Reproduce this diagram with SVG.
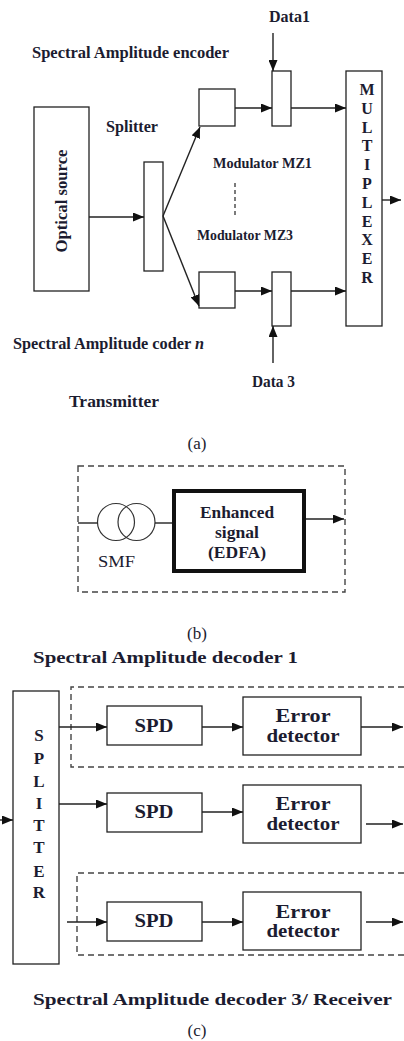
<svg xmlns="http://www.w3.org/2000/svg" width="404" height="1041" viewBox="0 0 404 1041">
<style>
  .bx{fill:#fff;stroke:#222;stroke-width:1.3}
  .ln{fill:none;stroke:#222;stroke-width:1.4}
  .ar{fill:none;stroke:#222;stroke-width:1.4;marker-end:url(#ah)}
  .ds{fill:none;stroke:#444;stroke-width:1.4;stroke-dasharray:6 4}
  .t{font-family:"Liberation Serif","Times New Roman",serif;font-weight:bold;fill:#1c1c30}
  .r{font-family:"Liberation Serif","Times New Roman",serif;fill:#1c1c30}
  .c{text-anchor:middle}
</style>
<defs>
  <marker id="ah" markerUnits="userSpaceOnUse" markerWidth="11" markerHeight="9" refX="11" refY="4.5" orient="auto">
    <path d="M0,0 L11,4.5 L0,9 z" fill="#111"/>
  </marker>
</defs>
<rect width="404" height="1041" fill="#fff"/>

<!-- (a) Transmitter -->
<g id="labels-a">
  <text class="t" x="269" y="22" font-size="16" textLength="41" lengthAdjust="spacingAndGlyphs">Data1</text>
  <text class="t" x="32" y="58" font-size="16" textLength="197" lengthAdjust="spacingAndGlyphs">Spectral Amplitude encoder</text>
  <text class="t" x="106" y="132" font-size="16" textLength="52" lengthAdjust="spacingAndGlyphs">Splitter</text>
  <text class="t" x="213" y="168" font-size="14" textLength="99" lengthAdjust="spacingAndGlyphs">Modulator MZ1</text>
  <text class="t" x="197" y="240" font-size="14" textLength="96" lengthAdjust="spacingAndGlyphs">Modulator MZ3</text>
  <text class="t" x="13" y="349" font-size="16" textLength="191" lengthAdjust="spacingAndGlyphs">Spectral Amplitude coder <tspan font-style="italic">n</tspan></text>
  <text class="t" x="252" y="387" font-size="16" textLength="43" lengthAdjust="spacingAndGlyphs">Data 3</text>
  <text class="t" x="69" y="407" font-size="16" textLength="90" lengthAdjust="spacingAndGlyphs">Transmitter</text>
  <text class="r c" x="197" y="449" font-size="17">(a)</text>
</g>
<g id="optical-source">
  <rect class="bx" x="34" y="107" width="55" height="184"/>
  <text class="t c" transform="translate(67,201) rotate(-90)" font-size="16" textLength="103" lengthAdjust="spacingAndGlyphs">Optical source</text>
</g>
<g id="splitter-a">
  <rect class="bx" x="144" y="162" width="19" height="109"/>
</g>
<g id="encoder-1">
  <rect class="bx" x="199" y="89" width="36" height="37"/>
</g>
<g id="encoder-n">
  <rect class="bx" x="199" y="272" width="36" height="36"/>
</g>
<g id="modulator-1">
  <rect class="bx" x="272" y="71" width="19" height="55"/>
</g>
<g id="modulator-3">
  <rect class="bx" x="272" y="272" width="19" height="54"/>
</g>
<g id="multiplexer">
  <rect class="bx" x="346" y="71" width="36" height="255"/>
  <g class="t c" font-size="16">
    <text x="367" y="95">M</text>
    <text x="367" y="114">U</text>
    <text x="367" y="133">L</text>
    <text x="367" y="151">T</text>
    <text x="367" y="170">I</text>
    <text x="367" y="189">P</text>
    <text x="367" y="208">L</text>
    <text x="367" y="227">E</text>
    <text x="367" y="245">X</text>
    <text x="367" y="264">E</text>
    <text x="367" y="283">R</text>
  </g>
</g>

<!-- (b) -->
<g id="link-b">
  <rect class="ds" x="78" y="466" width="267" height="126"/>
  <circle cx="116" cy="522" r="18.5" fill="none" stroke="#333" stroke-width="1.2"/>
  <circle cx="136.5" cy="522" r="18.5" fill="none" stroke="#333" stroke-width="1.2"/>
  <text class="r" x="98" y="567" font-size="16" textLength="37" lengthAdjust="spacingAndGlyphs">SMF</text>
  <text class="r c" x="197" y="639" font-size="17">(b)</text>
</g>
<g id="edfa">
  <rect x="174" y="491" width="130" height="80" fill="#fff" stroke="#111" stroke-width="4"/>
  <text class="t c" x="237" y="518" font-size="17" textLength="74" lengthAdjust="spacingAndGlyphs">Enhanced</text>
  <text class="t c" x="237" y="538" font-size="17" textLength="44" lengthAdjust="spacingAndGlyphs">signal</text>
  <text class="t c" x="237" y="558" font-size="17" textLength="58" lengthAdjust="spacingAndGlyphs">(EDFA)</text>
</g>

<!-- (c) Receiver -->
<g id="labels-c">
  <text class="t" x="33" y="663" font-size="16" textLength="265" lengthAdjust="spacingAndGlyphs">Spectral Amplitude decoder 1</text>
  <text class="t" x="33" y="1005" font-size="16" textLength="359" lengthAdjust="spacingAndGlyphs">Spectral Amplitude decoder 3/ Receiver</text>
  <text class="r c" x="197" y="1036" font-size="17">(c)</text>
</g>
<g id="decoder-groups">
  <path class="ds" d="M404,687 H71 V767 H404"/>
  <path class="ds" d="M404,873 H77 V955 H404"/>
</g>
<g id="splitter-c">
  <rect class="bx" x="13" y="691" width="46" height="273"/>
  <g class="t c" font-size="17">
    <text x="39" y="741">S</text>
    <text x="39" y="764">P</text>
    <text x="39" y="787">L</text>
    <text x="39" y="809">I</text>
    <text x="39" y="831">T</text>
    <text x="39" y="853">T</text>
    <text x="39" y="877">E</text>
    <text x="39" y="898">R</text>
  </g>
</g>
<g id="spd-1"><rect class="bx" x="107" y="706" width="95" height="39"/><text class="t c" x="154" y="732" font-size="18" textLength="39" lengthAdjust="spacingAndGlyphs">SPD</text></g>
<g id="spd-2"><rect class="bx" x="107" y="793" width="95" height="39"/><text class="t c" x="154" y="818" font-size="18" textLength="39" lengthAdjust="spacingAndGlyphs">SPD</text></g>
<g id="spd-3"><rect class="bx" x="107" y="902" width="95" height="39"/><text class="t c" x="154" y="927" font-size="18" textLength="39" lengthAdjust="spacingAndGlyphs">SPD</text></g>
<g id="ed-1"><rect class="bx" x="243" y="697" width="118" height="58"/><text class="t c" x="303" y="722" font-size="18" textLength="55" lengthAdjust="spacingAndGlyphs">Error</text><text class="t c" x="303" y="742" font-size="18" textLength="73" lengthAdjust="spacingAndGlyphs">detector</text></g>
<g id="ed-2"><rect class="bx" x="243" y="785" width="118" height="58"/><text class="t c" x="303" y="810" font-size="18" textLength="55" lengthAdjust="spacingAndGlyphs">Error</text><text class="t c" x="303" y="830" font-size="18" textLength="73" lengthAdjust="spacingAndGlyphs">detector</text></g>
<g id="ed-3"><rect class="bx" x="243" y="892" width="118" height="58"/><text class="t c" x="303" y="918" font-size="18" textLength="55" lengthAdjust="spacingAndGlyphs">Error</text><text class="t c" x="303" y="937" font-size="18" textLength="73" lengthAdjust="spacingAndGlyphs">detector</text></g>

<g id="connectors">
  <!-- (a) -->
  <line class="ar" x1="273" y1="33" x2="273" y2="71"/>
  <line class="ar" x1="235" y1="108" x2="272" y2="108"/>
  <line class="ar" x1="291" y1="108" x2="346" y2="108"/>
  <line class="ar" x1="89" y1="217" x2="144" y2="217"/>
  <line class="ar" x1="163" y1="216" x2="200" y2="127"/>
  <line class="ar" x1="163" y1="216" x2="199" y2="306"/>
  <line class="ds" x1="235" y1="183" x2="235" y2="216" style="stroke-dasharray:4 3"/>
  <line class="ar" x1="235" y1="291" x2="272" y2="291"/>
  <line class="ar" x1="291" y1="291" x2="346" y2="291"/>
  <line class="ar" x1="273" y1="363" x2="273" y2="326"/>
  <line class="ar" x1="382" y1="200" x2="401" y2="200"/>
  <!-- (b) -->
  <line class="ln" x1="78" y1="523" x2="97.5" y2="523"/>
  <line class="ln" x1="155" y1="523" x2="172" y2="523"/>
  <line class="ar" x1="306" y1="519" x2="344" y2="519"/>
  <!-- (c) -->
  <line class="ar" x1="0" y1="820" x2="13" y2="820"/>
  <line class="ar" x1="59" y1="727" x2="107" y2="727"/>
  <line class="ar" x1="202" y1="727" x2="243" y2="727"/>
  <line class="ar" x1="361" y1="727" x2="403" y2="727"/>
  <line class="ar" x1="59" y1="804" x2="107" y2="804"/>
  <line class="ar" x1="202" y1="812" x2="243" y2="812"/>
  <line class="ar" x1="366" y1="824" x2="403" y2="824"/>
  <line class="ar" x1="67" y1="922" x2="107" y2="922"/>
  <line class="ar" x1="202" y1="922" x2="243" y2="922"/>
  <line class="ar" x1="366" y1="922" x2="403" y2="922"/>
</g>
</svg>
